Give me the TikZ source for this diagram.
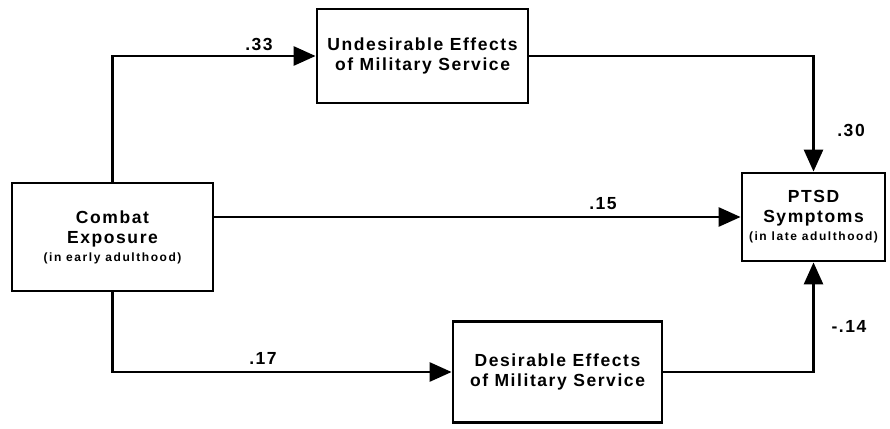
\documentclass[tikz,border=0pt]{standalone}
\usepackage{fontspec}
\setmainfont{Liberation Sans}[LetterSpace=9]
\newfontfamily\notefont{Liberation Sans}[LetterSpace=13]
\usepackage{tikz}
\usetikzlibrary{arrows.meta}
\newcommand{\boxfont}{\fontsize{17.5}{20}\selectfont\bfseries}
\newcommand{\notetext}[1]{{\notefont\fontsize{12}{13}\selectfont\bfseries #1}}
\tikzstyle{box} = [rectangle, draw=black, line width=2.8pt, inner sep=0pt, align=center, font=\boxfont]
\tikzstyle{arrow} = [line width=2.8pt, -{Triangle[length=22pt,width=19pt]}]
\tikzstyle{weight} = [font=\boxfont, inner sep=0pt]

\begin{document}
\begin{tikzpicture}[x=1pt,y=-1pt]
    \useasboundingbox (0,0) rectangle (890,428);
    % variables
    \node (combat) [box, minimum width=201pt, minimum height=108pt] at (112.5,237) {Combat\\Exposure\\[-2pt]\notetext{(in early adulthood)}};
    \node (undes) [box, minimum width=211pt, minimum height=94pt] at (422.5,56) {Undesirable Effects\\of Military Service};
    \node (ptsd) [box, minimum width=143pt, minimum height=88pt] at (813.5,217) {PTSD\\Symptoms\\[-2pt]\notetext{(in late adulthood)}};
    \node (des) [box, minimum width=209pt, minimum height=101pt] at (557.5,372) {Desirable Effects\\of Military Service};
    % paths
    \draw [arrow] (combat.north) |- (undes.west);
    \draw [arrow] (undes.east) -| (ptsd.north);
    \draw [arrow] (combat.east |- ptsd.west) -- (ptsd.west);
    \draw [arrow] (combat.south) |- (des.west);
    \draw [arrow] (des.east) -| (ptsd.south);
    % coefficients
    \node (w33) [weight] at (259,44) {.33};
    \node (w30) [weight] at (851,130) {.30};
    \node (w15) [weight] at (603,204) {.15};
    \node (w17) [weight] at (263,358) {.17};
    \node (w14) [weight] at (849,326) {-.14};
\end{tikzpicture}
\end{document}
